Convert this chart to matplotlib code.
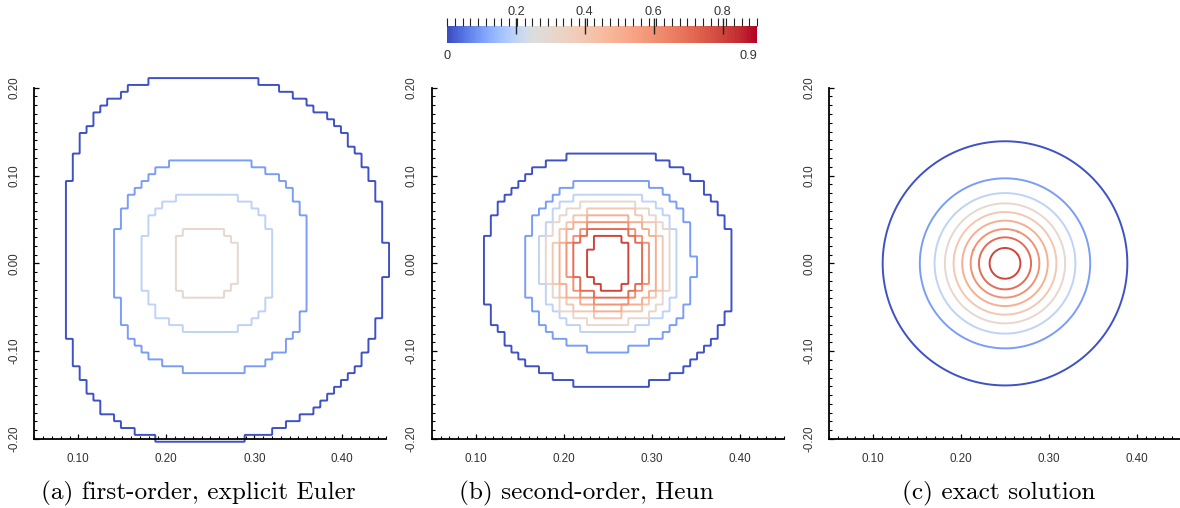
import numpy as np
import matplotlib
matplotlib.use('Agg')
import matplotlib.pyplot as plt
from matplotlib.colors import ListedColormap, Normalize
from matplotlib.cm import ScalarMappable
from matplotlib.ticker import FixedLocator, FixedFormatter, MultipleLocator

# ---------------- data ----------------
VMIN, VMAX = 0.0, 0.9
CBAR_MAJOR = [0.2, 0.4, 0.6, 0.8]
CBAR_MAJOR_LABELS = ['0.2', '0.4', '0.6', '0.8']
CBAR_END_VALUES = [0.0, 0.9]
CBAR_END_LABELS = ['0', '0.9']

X_TICKS = [0.10, 0.20, 0.30, 0.40]
X_TICK_LABELS = ['0.10', '0.20', '0.30', '0.40']
Y_TICKS = [-0.20, -0.10, 0.00, 0.10, 0.20]
Y_TICK_LABELS = ['-0.20', '-0.10', '0.00', '0.10', '0.20']
X_RANGE = [0.05, 0.45]
Y_RANGE = [-0.20, 0.20]

CAPTIONS = ['(a) first-order, explicit Euler', '(b) second-order, Heun', '(c) exact solution']

# (a) first-order, explicit Euler: contour level shapes
LEVELS_A = [0.01, 0.1, 0.2, 0.3]
CX_A = [0.250, 0.252, 0.2475, 0.245]
CY_A = [0.005, -0.0025, 0.001, 0.000]
AL_A = [0.165, 0.110, 0.0745, 0.035]
AR_A = [0.200, 0.110, 0.0745, 0.036]
BT_A = [0.208, 0.1215, 0.079, 0.039]
BB_A = [0.208, 0.1215, 0.079, 0.039]
PL_A = [2.9, 2.5, 2.5, 3.0]
PR_A = [2.1, 2.5, 2.5, 3.0]

# (b) second-order, Heun
LEVELS_B = [0.01, 0.1, 0.2, 0.3, 0.4, 0.5, 0.6, 0.7, 0.8]
CX_B = [0.251, 0.252, 0.252, 0.2515, 0.2515, 0.251, 0.251, 0.251, 0.252]
CY_B = [-0.0067, -0.0013, 0.002, 0.0015, 0.0013, 0.001, 0.0004, 0.0005, 0.001]
AL_B = [0.1415, 0.096, 0.0796, 0.0715, 0.063, 0.056, 0.047, 0.0397, 0.0244]
AR_B = [0.1415, 0.096, 0.0796, 0.0715, 0.063, 0.056, 0.047, 0.0397, 0.0244]
BT_B = [0.1345, 0.098, 0.080, 0.0705, 0.061, 0.0535, 0.046, 0.0395, 0.031]
BB_B = [0.1345, 0.098, 0.080, 0.0705, 0.061, 0.0535, 0.046, 0.0395, 0.031]
PL_B = [2.2, 2.3, 2.3, 2.3, 2.3, 2.3, 2.3, 2.3, 2.5]
PR_B = [2.2, 2.3, 2.3, 2.3, 2.3, 2.3, 2.3, 2.3, 2.5]

# (c) exact solution: circle radii per level
LEVELS_C = [0.01, 0.1, 0.2, 0.3, 0.4, 0.5, 0.6, 0.7, 0.8]
CENTER_C = (0.25, 0.0)
RADII_C = [0.139, 0.0968, 0.080, 0.0683, 0.0584, 0.0486, 0.039, 0.0296, 0.0175]

# ---------------- style ----------------
W, H = 1180, 508
DPI = 100
CELL = 1.0 / 128.0       # mesh cell size of numerical solutions
UPS = 8                  # upsampling for stepped contour
CMAP_CENTER = 0.25       # value at which diverging map is neutral
LW = 1.4
TICK_FONT = 'Liberation Sans'
TICK_COLOR = '#333333'

base = plt.get_cmap('coolwarm')
tt = np.linspace(0, 1, 256)
pos = np.interp(tt * (VMAX - VMIN) + VMIN, [VMIN, CMAP_CENTER, VMAX], [0.0, 0.5, 1.0])
cmap = ListedColormap(base(pos))
norm = Normalize(VMIN, VMAX)


def measure(X, Y, cx, cy, al, ar, bt, bb, pl, pr):
    dx = X - cx
    dy = Y - cy
    a = np.where(dx < 0, al, ar)
    b = np.where(dy < 0, bb, bt)
    p = np.where(dx < 0, pl, pr)
    return np.abs(dx / a) ** p + np.abs(dy / b) ** p


fig = plt.figure(figsize=(W / DPI, H / DPI), dpi=DPI)

ax_left_px = [34.3, 431.7, 829.0]
ax_w_px = 352.0
ax_top_px, ax_bot_px = 87.7, 439.0
axes = []
for lp in ax_left_px:
    ax = fig.add_axes([lp / W, 1 - ax_bot_px / H, ax_w_px / W, (ax_bot_px - ax_top_px) / H])
    axes.append(ax)

# coarse mesh (cell centres) and upsampled evaluation grid
nx = 64
xc = (np.arange(nx) + 0.5) * CELL
yc = -0.25 + (np.arange(nx) + 0.5) * CELL
XC, YC = np.meshgrid(xc, yc)
xf = (np.arange(nx * UPS) + 0.5) * CELL / UPS
yf = -0.25 + (np.arange(nx * UPS) + 0.5) * CELL / UPS


def stepped(ax, levels, cx, cy, al, ar, bt, bb, pl, pr):
    for i, lev in enumerate(levels):
        m = measure(XC, YC, cx[i], cy[i], al[i], ar[i], bt[i], bb[i], pl[i], pr[i])
        inside = (m <= 1.0).astype(float)
        fine = np.kron(inside, np.ones((UPS, UPS)))
        cs = ax.contour(xf, yf, fine, levels=[0.5], colors=[cmap(norm(lev))], linewidths=LW)
        cs.set_clip_on(False)


stepped(axes[0], LEVELS_A, CX_A, CY_A, AL_A, AR_A, BT_A, BB_A, PL_A, PR_A)
stepped(axes[1], LEVELS_B, CX_B, CY_B, AL_B, AR_B, BT_B, BB_B, PL_B, PR_B)

xs = np.linspace(0.0, 0.5, 1001)
ys = np.linspace(-0.25, 0.25, 1001)
XS, YS = np.meshgrid(xs, ys)
for lev, r in zip(LEVELS_C, RADII_C):
    m = measure(XS, YS, CENTER_C[0], CENTER_C[1], r, r, r, r, 2.0, 2.0)
    axes[2].contour(xs, ys, m, levels=[1.0], colors=[cmap(norm(lev))], linewidths=LW)

for ax in axes:
    ax.set_xlim(X_RANGE)
    ax.set_ylim(Y_RANGE)
    ax.set_aspect('auto')
    for s in ['top', 'right']:
        ax.spines[s].set_visible(False)
    for s in ['left', 'bottom']:
        ax.spines[s].set_linewidth(1.3)
        ax.spines[s].set_color('black')
    ax.xaxis.set_major_locator(FixedLocator(X_TICKS))
    ax.xaxis.set_major_formatter(FixedFormatter(X_TICK_LABELS))
    ax.yaxis.set_major_locator(FixedLocator(Y_TICKS))
    ax.yaxis.set_major_formatter(FixedFormatter(Y_TICK_LABELS))
    ax.xaxis.set_minor_locator(MultipleLocator(0.01))
    ax.yaxis.set_minor_locator(MultipleLocator(0.01))
    ax.tick_params(which='major', direction='in', length=3.8, width=0.9, color='black',
                   labelsize=8.4, labelcolor=TICK_COLOR, pad=10.0)
    ax.tick_params(which='minor', direction='in', length=2.2, width=0.8, color='black')
    for lab in ax.get_yticklabels():
        lab.set_rotation(90)
        lab.set_va('center')
        lab.set_family(TICK_FONT)
    for lab in ax.get_xticklabels():
        lab.set_family(TICK_FONT)

# captions
cap_x = [198, 586, 999]
for cx_, txt in zip(cap_x, CAPTIONS):
    fig.text(cx_ / W, 1 - 499.5 / H, txt, ha='center', va='baseline',
             fontsize=18.2, family='cmr10')

# colorbar
cax = fig.add_axes([447 / W, 1 - 42.7 / H, 310 / W, 16.7 / H])
cb = fig.colorbar(ScalarMappable(norm=norm, cmap=cmap), cax=cax, orientation='horizontal')
cb.outline.set_visible(False)
cax.xaxis.set_ticks_position('top')
cax.xaxis.set_major_locator(FixedLocator(CBAR_MAJOR))
cax.xaxis.set_major_formatter(FixedFormatter(CBAR_MAJOR_LABELS))
cax.xaxis.set_minor_locator(FixedLocator(list(np.linspace(VMIN, VMAX, 41))))
cax.tick_params(which='major', direction='inout', length=11, width=1.0, color='#222222',
                labelsize=9.2, labelcolor=TICK_COLOR, pad=0.5)
cax.tick_params(which='minor', direction='out', length=5.5, width=0.8, color='#222222')
for lab in cax.get_xticklabels():
    lab.set_family(TICK_FONT)
cax.text(CBAR_END_VALUES[0], -0.45, CBAR_END_LABELS[0], transform=cax.get_xaxis_transform(),
         ha='center', va='top', fontsize=9.2, color=TICK_COLOR, family=TICK_FONT)
cax.text(CBAR_END_VALUES[1], -0.45, CBAR_END_LABELS[1], transform=cax.get_xaxis_transform(),
         ha='right', va='top', fontsize=9.2, color=TICK_COLOR, family=TICK_FONT)

fig.savefig('out.png', dpi=DPI)
